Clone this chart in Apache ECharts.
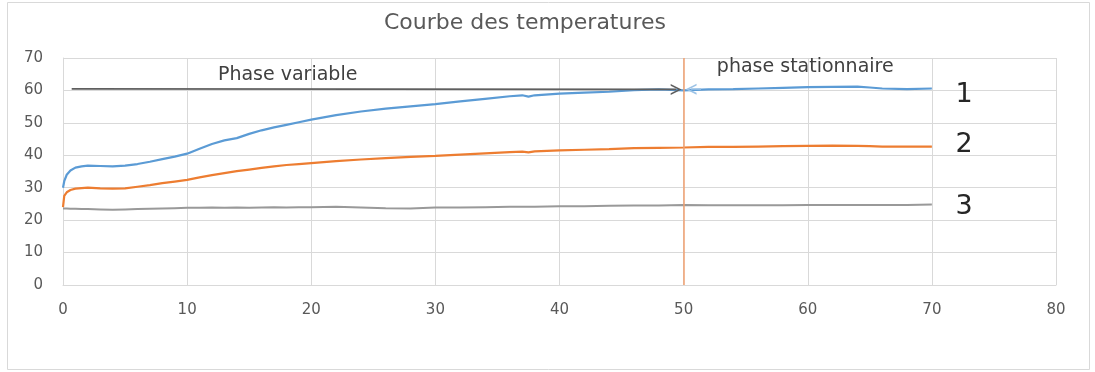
<!DOCTYPE html>
<html>
<head>
<meta charset="utf-8">
<script src="https://cdn.jsdelivr.net/npm/echarts@6/dist/echarts.min.js"></script>
<style>
html,body{margin:0;padding:0;background:#fff;}
#chart{width:1095px;height:372px;}
</style>
</head>
<body>
<div id="chart"></div>
<script>
// time axis (minutes)
const times = [0, 0.1, 0.3, 0.6, 1, 1.5, 2, 3, 4, 5, 6, 7, 8, 9, 10, 11, 12, 13, 14, 15, 16, 17, 18, 19, 20, 22, 24, 26, 28, 30, 32, 34, 36, 37, 37.5, 38, 40, 42, 44, 46, 48, 50, 52, 54, 56, 58, 60, 62, 64, 65, 66, 68, 70];
// temperature curve 1 (blue)
const temp1 = [30, 32, 34, 35.3, 36.2, 36.6, 36.8, 36.7, 36.6, 36.8, 37.3, 38, 38.8, 39.6, 40.5, 42, 43.5, 44.6, 45.3, 46.6, 47.7, 48.6, 49.4, 50.2, 51, 52.4, 53.5, 54.4, 55.1, 55.8, 56.6, 57.4, 58.2, 58.5, 58.1, 58.5, 59.0, 59.3, 59.6, 60.1, 60.3, 60.0, 60.3, 60.4, 60.6, 60.8, 61.0, 61.1, 61.2, 60.9, 60.6, 60.4, 60.6];
// temperature curve 2 (orange)
const temp2 = [24, 27.5, 28.6, 29.3, 29.7, 29.9, 30.0, 29.8, 29.7, 29.8, 30.3, 30.8, 31.4, 31.9, 32.4, 33.2, 33.9, 34.5, 35.1, 35.6, 36.1, 36.6, 37.0, 37.3, 37.6, 38.2, 38.7, 39.1, 39.5, 39.8, 40.2, 40.6, 41.0, 41.1, 40.9, 41.2, 41.5, 41.7, 41.9, 42.2, 42.3, 42.4, 42.6, 42.6, 42.7, 42.8, 42.9, 43.0, 42.9, 42.8, 42.7, 42.7, 42.7];
// temperature curve 3 (gray)
const temp3 = [23.6, 23.6, 23.6, 23.5, 23.5, 23.4, 23.4, 23.3, 23.2, 23.3, 23.4, 23.5, 23.6, 23.7, 23.8, 23.8, 23.9, 23.8, 23.9, 23.8, 23.9, 24.0, 23.9, 24.0, 24.0, 24.1, 23.9, 23.7, 23.6, 23.9, 23.9, 24.0, 24.1, 24.1, 24.1, 24.1, 24.3, 24.3, 24.4, 24.5, 24.5, 24.7, 24.6, 24.6, 24.6, 24.6, 24.7, 24.7, 24.7, 24.7, 24.7, 24.7, 24.8];
const xTicks = [0, 10, 20, 30, 40, 50, 60, 70, 80];
const yTicks = [0, 10, 20, 30, 40, 50, 60, 70];

const pair = arr => times.map((t, i) => [t, arr[i]]);
const chevron = 'path://M0,10 L5,0 L10,10 L8.4,10 L5,3.2 L1.6,10 Z';
const FONT = 'DejaVu Sans';

const chart = echarts.init(document.getElementById('chart'), null, {renderer: 'canvas'});
chart.setOption({
  animation: false,
  backgroundColor: '#ffffff',
  title: {
    text: 'Courbe des temperatures',
    left: 520, top: 7, textAlign: 'center',
    textStyle: {fontFamily: FONT, fontSize: 22, fontWeight: 'normal', color: '#595959'}
  },
  graphic: [{
    type: 'rect', silent: true, z: -1,
    shape: {x: 7.5, y: 2.5, width: 1082, height: 367},
    style: {fill: 'none', stroke: '#d9d9d9', lineWidth: 1}
  }],
  grid: {left: 63, right: 39, top: 58, bottom: 87, containLabel: false, outerBoundsMode: 'none'},
  xAxis: {
    type: 'value', min: xTicks[0], max: xTicks[xTicks.length - 1], interval: 10,
    axisLine: {show: true, lineStyle: {color: '#d9d9d9'}},
    axisTick: {show: false},
    axisLabel: {margin: 18, fontFamily: FONT, fontSize: 15, color: '#595959'},
    splitLine: {show: true, lineStyle: {color: '#d9d9d9'}}
  },
  yAxis: {
    type: 'value', min: yTicks[0], max: yTicks[yTicks.length - 1], interval: 10,
    axisLine: {show: true, lineStyle: {color: '#d9d9d9'}},
    axisTick: {show: false},
    axisLabel: {margin: 20, fontFamily: FONT, fontSize: 15, color: '#595959'},
    splitLine: {show: true, lineStyle: {color: '#d9d9d9'}}
  },
  series: [
    {
      name: '3', type: 'line', data: pair(temp3), showSymbol: false, smooth: false,
      lineStyle: {color: '#999999', width: 2}, z: 2
    },
    {
      name: '2', type: 'line', data: pair(temp2), showSymbol: false,
      lineStyle: {color: '#ed7d31', width: 2.2}, z: 3
    },
    {
      name: '1', type: 'line', data: pair(temp1), showSymbol: false,
      lineStyle: {color: '#5b9bd5', width: 2.2}, z: 4,
      markLine: {
        silent: true, animation: false,
        label: {show: false},
        data: [
          [
            {coord: [50, 0], symbol: 'none', lineStyle: {color: '#f0a070', width: 1.5, type: 'solid'}},
            {coord: [50, 70], symbol: 'none'}
          ],
          [
            {coord: [0.7, 60.5], symbol: 'none', lineStyle: {color: '#5f5f5f', width: 1.8, type: 'solid'}},
            {coord: [49.4, 60.3], symbol: chevron, symbolSize: [11, 11]}
          ],
          [
            {coord: [50.6, 60.4], symbol: chevron, symbolSize: [11, 11], lineStyle: {color: '#9dc3e6', width: 1.5, type: 'solid'}},
            {coord: [51.4, 60.4], symbol: 'none'}
          ]
        ]
      },
      markPoint: {
        silent: true, animation: false,
        symbol: 'circle', symbolSize: 0,
        label: {show: true, position: 'inside', formatter: '{b}', fontFamily: FONT, fontSize: 19, color: '#404040'},
        data: [
          {name: 'Phase variable', coord: [18.1, 64.6]},
          {name: 'phase stationnaire', coord: [59.8, 67.1]},
          {name: '1', coord: [72.6, 58.5], label: {fontSize: 27, color: '#262626'}},
          {name: '2', coord: [72.6, 43.1], label: {fontSize: 27, color: '#262626'}},
          {name: '3', coord: [72.6, 24.2], label: {fontSize: 27, color: '#262626'}}
        ]
      }
    }
  ]
});
</script>
</body>
</html>
